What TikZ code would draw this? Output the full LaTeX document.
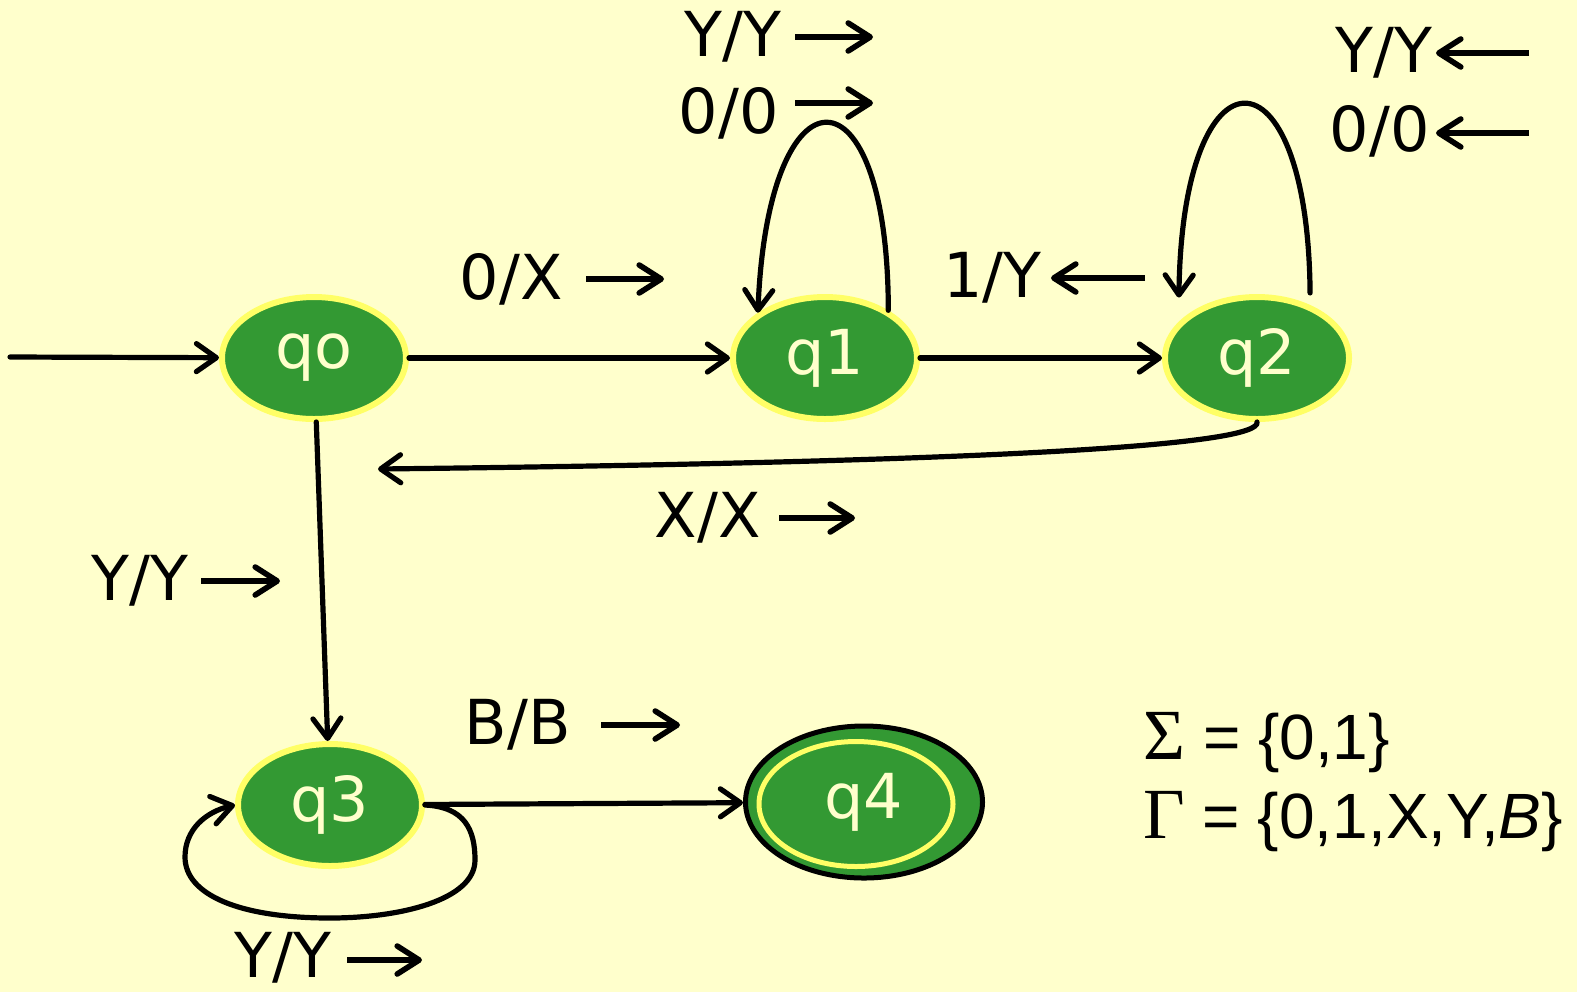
\documentclass[tikz,border=0pt]{standalone}
\usepackage{fontspec}
\setmainfont{DejaVu Sans}
\newfontfamily\legendfont{Liberation Sans}
\newfontfamily\greekfont{Liberation Serif}
\usetikzlibrary{arrows.meta,shapes.geometric}
\definecolor{paper}{HTML}{FFFFCC}
\definecolor{stategreen}{HTML}{339933}
\definecolor{rim}{HTML}{FFFF66}
\newcommand{\tmfont}{\fontsize{31}{37}\selectfont}
\newcommand{\bigsym}[1]{{\greekfont\fontsize{36}{36}\selectfont #1}}

\begin{document}
\begin{tikzpicture}[x=0.5pt,y=-0.5pt,
  state/.style={ellipse,fill=stategreen,draw=rim,line width=3pt,minimum width=92pt,minimum height=61pt,inner sep=0pt,text=paper,font=\tmfont},
  edge/.style={line width=2.6pt,line cap=round,-{Straight Barb[length=10pt,width=14pt,line cap=round,line join=round]}},
  tarrow/.style={line width=2.8pt,-{Straight Barb[length=11pt,width=14pt,line cap=round,line join=round]}},
  lbl/.style={font=\tmfont,anchor=east,inner sep=0pt},
  legend/.style={font=\legendfont\fontsize{32}{38}\selectfont,anchor=west,inner sep=0pt}]
\useasboundingbox (0,0) rectangle (1577,992);
\fill[paper] (0,0) rectangle (1577,992);
% states
\node[state] (q0) at (314,358) {qo};
\node[state] (q1) at (825,358) {q1};
\node[state] (q2) at (1257,358) {q2};
\node[state] (q3) at (330,805) {q3};
\node[state,draw=black,line width=2.5pt,minimum width=118.5pt,minimum height=76pt] (q4) at (864,802) {q4};
\draw[rim,line width=2.5pt] (856,804) ellipse (97 and 62.5);
% transitions
\coordinate (entry) at (10,357);
\coordinate (xback) at (378,469);
\draw[edge] (entry) -- (q0);
\draw[edge] (q0) -- (q1);
\draw[edge] (q1) -- (q2);
\draw[edge] (q0) -- (q3);
\draw[edge] (q3) -- (q4);
\draw[edge] (q1.37) .. controls (888,60) and (768,60) .. (q1.146);
\draw[edge] ([yshift=6pt]q2.45) .. controls (1308,40) and (1182,40) .. ([yshift=12pt]q2.155);
\draw[edge] (q2.south) .. controls (1262,445) and (1000,462) .. (xback);
\draw[edge] (q3.east) .. controls (465,807) and (475,830) .. (475,860)
  .. controls (475,900) and (400,918) .. (330,918)
  .. controls (240,918) and (185,895) .. (185,857)
  .. controls (185,830) and (205,812) .. (q3.west);
% labels
\node[lbl] (yy1) at (782,37) {Y/Y};
\draw[tarrow] ([xshift=6.5pt]yy1.east) -- ++(78,0);
\node[lbl] (oo1) at (779,113) {0/0};
\draw[tarrow] ([xshift=8pt,yshift=5pt]oo1.east) -- ++(78,0);
\node[lbl] (ox) at (563,279) {0/X};
\draw[tarrow] ([xshift=11.5pt]ox.east) -- ++(78,0);
\node[lbl] (iy) at (1042,278) {1/Y};
\draw[tarrow] ([xshift=51.5pt]iy.east) -- ++(-94,0);
\node[lbl] (yy2) at (1433,53) {Y/Y};
\draw[tarrow] ([xshift=48pt]yy2.east) -- ++(-93,0);
\node[lbl] (oo2) at (1430,131) {0/0};
\draw[tarrow] ([xshift=49.5pt,yshift=-1pt]oo2.east) -- ++(-93,0);
\node[lbl] (xx) at (761,518) {X/X};
\draw[tarrow] ([xshift=9pt]xx.east) -- ++(76,0);
\node[lbl] (yy3) at (189,581) {Y/Y};
\draw[tarrow] ([xshift=6pt]yy3.east) -- ++(79,0);
\node[lbl] (bb) at (571,725) {B/B};
\draw[tarrow] ([xshift=15pt]bb.east) -- ++(79,0);
\node[lbl] (yy4) at (332,958) {Y/Y};
\draw[tarrow] ([xshift=7.5pt,yshift=-1pt]yy4.east) -- ++(75,0);
% alphabets
\node[legend] (sigma) at (1143,743) {\bigsym{Σ} = \{0,1\}};
\node[legend] (gamma) at (1143,822) {\bigsym{Γ} = \{0,1,X,Y,\textit{B}\}};
\end{tikzpicture}
\end{document}
